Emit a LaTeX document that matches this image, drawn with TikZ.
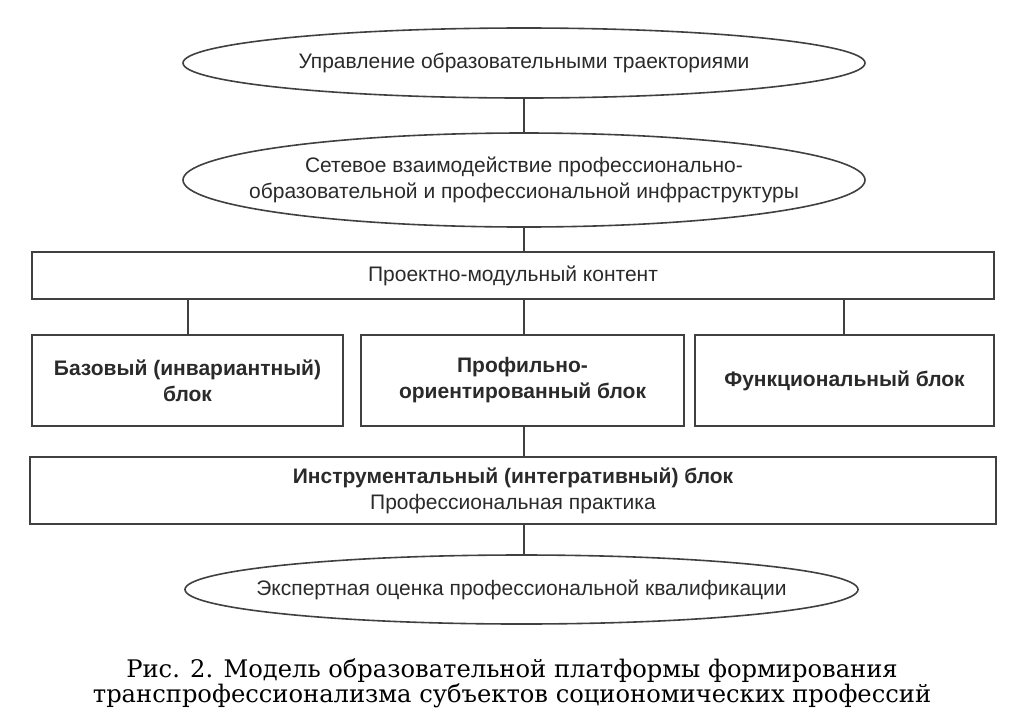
\documentclass[tikz,border=0pt]{standalone}
\usepackage{fontspec}
\setmainfont{Liberation Sans}
\newfontfamily\capfont{DejaVu Serif}
\usetikzlibrary{shapes.geometric}
\definecolor{ln}{HTML}{404040}
\definecolor{tx}{HTML}{2a2a2a}
\begin{document}
\begin{tikzpicture}[x=1pt,y=-1pt,
  every node/.style={inner sep=0pt,outer sep=0pt,text=tx,font=\fontsize{21}{26}\selectfont,align=center},
  oval/.style={ellipse,draw=ln,line width=1.6pt,inner xsep=-80pt},
  blk/.style={rectangle,draw=ln,line width=1.6pt},
  conn/.style={draw=ln,line width=1.6pt}]
\useasboundingbox (0,0) rectangle (1030,716);
\node[oval,minimum width=682,minimum height=70] (e1) at (524,63) {Управление образовательными траекториями};
\node[oval,minimum width=682,minimum height=94] (e2) at (524,180) {Сетевое взаимодействие профессионально-\\образовательной и профессиональной инфраструктуры};
\node[blk,minimum width=962,minimum height=47] (r1) at (513,275.5) {Проектно-модульный контент};
\node[blk,minimum width=311,minimum height=91] (b1) at (187.5,380.5) {\bfseries Базовый (инвариантный)\\\bfseries блок};
\node[blk,minimum width=323,minimum height=91] (b2) at (522.5,380.5) {\bfseries Профильно-\\\bfseries ориентированный блок};
\node[blk,minimum width=299,minimum height=91] (b3) at (844.5,380.5) {\bfseries Функциональный блок};
\node[blk,minimum width=966,minimum height=67] (r2) at (513,490.5) {\bfseries Инструментальный (интегративный) блок\\Профессиональная практика};
\node[oval,minimum width=673,minimum height=69] (e3) at (521.5,589.5) {Экспертная оценка профессиональной квалификации};
\coordinate (c1) at (188,298);
\coordinate (c3) at (844,298);
\draw[conn] (e1.south) -- (e2.north);
\draw[conn] (e2.south) -- (r1.north -| e2.south);
\draw[conn] (c1) -- (b1.north -| c1);
\draw[conn] (r1.south -| e2.south) -- (b2.north -| e2.south);
\draw[conn] (c3) -- (b3.north -| c3);
\draw[conn] (b2.south -| e2.south) -- (r2.north -| e2.south);
\draw[conn] (r2.south -| e2.south) -- (e3.north -| e2.south);
\node[font=\capfont\fontsize{24.2}{24}\selectfont,text=black,anchor=base] (cap1) at (512,677) {Рис. 2. Модель образовательной платформы формирования};
\node[font=\capfont\fontsize{24.2}{24}\selectfont,text=black,anchor=base] (cap2) at (512,702) {транспрофессионализма субъектов социономических профессий};
\end{tikzpicture}
\end{document}
